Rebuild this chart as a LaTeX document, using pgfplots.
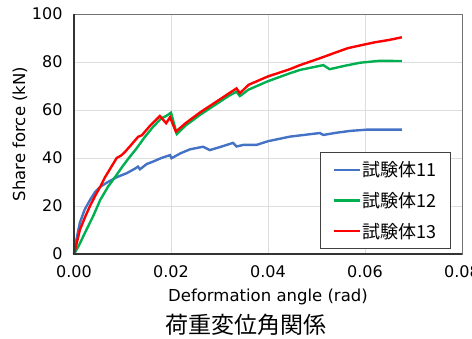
\documentclass[border=0pt]{standalone}
\usepackage{pgfplots}
\pgfplotsset{compat=1.18}
\usepackage{fontspec}
\setmainfont{DejaVu Sans}
\newfontfamily\jp{Noto Sans CJK JP}
\definecolor{cblue}{HTML}{4472C4}
\definecolor{cgreen}{HTML}{00B050}
\definecolor{cred}{HTML}{FF0000}
\begin{document}
\begin{tikzpicture}
\begin{axis}[
  name=ax,
  scale only axis,
  width=388pt, height=240pt,
  xmin=0, xmax=0.08, ymin=0, ymax=100,
  xtick={0,0.02,0.04,0.06,0.08},
  ytick={0,20,40,60,80,100},
  scaled x ticks=false,
  xticklabel style={/pgf/number format/fixed, /pgf/number format/fixed zerofill, /pgf/number format/precision=2, yshift=-8pt},
  yticklabel style={xshift=-8pt},
  /pgf/number format/assume math mode=true,
  tick label style={font=\fontsize{16}{19}\selectfont},
  major tick length=0pt,
  grid=major,
  major grid style={draw=black!13, line width=1pt},
  axis line style={draw=black!55, line width=1pt},
  xlabel={Deformation angle (rad)},
  ylabel={Share force (kN)},
  label style={font=\fontsize{16.5}{20}\selectfont},
  xlabel style={at={(axis description cs:0.5,-0.179)}, anchor=center},
  ylabel style={at={(axis description cs:-0.139,0.5)}, anchor=center},
  legend cell align=left,
  legend image code/.code={\draw[#1, line width=2.4pt] (0pt,0pt) -- (26pt,0pt);},
  legend style={at={(0.972,0.021)}, anchor=south east, draw=black!75, line width=0.8pt, fill=white,
    font=\jp\fontsize{18}{21}\selectfont, row sep=10pt, inner xsep=12pt, inner ysep=7pt,
    /tikz/every even column/.append style={column sep=3pt}},
  clip=false,
]
\addplot[cblue, line width=2.4pt] coordinates {
(0,0) (0.0005,6) (0.0012,13) (0.0022,18.5) (0.0033,22.5) (0.0044,26) (0.0054,28) (0.0070,30)
(0.0088,32) (0.0109,33.7) (0.0125,35.5) (0.0132,36.4) (0.0136,35.3) (0.0150,37.5) (0.0163,38.5)
(0.0180,40) (0.0198,41.2) (0.0201,39.9) (0.0220,42) (0.0239,43.6) (0.0266,44.7) (0.0280,43.3)
(0.0300,44.5) (0.0328,46.3) (0.0335,44.8) (0.0350,45.5) (0.0377,45.5) (0.0400,47) (0.0445,48.9)
(0.0490,50) (0.0507,50.4) (0.0514,49.6) (0.0540,50.5) (0.0570,51.3) (0.0603,51.8) (0.0676,51.8)
};
\addlegendentry{試験体11}
\addplot[cgreen, line width=2.4pt] coordinates {
(0,0) (0.0010,3.5) (0.0023,9) (0.0040,16) (0.0054,22.5) (0.0070,28) (0.0088,33) (0.0100,36.5)
(0.0115,40.5) (0.0129,44) (0.0145,48.5) (0.0163,53) (0.0180,56.5) (0.0190,57.5) (0.0200,58.9)
(0.0212,50) (0.0230,53.5) (0.0260,58) (0.0290,62) (0.0320,66) (0.0335,67.6) (0.0342,65.8)
(0.0360,68.5) (0.0400,72) (0.0445,75.3) (0.0466,76.7) (0.0514,78.7) (0.0527,77) (0.0560,78.5)
(0.0590,79.7) (0.0630,80.5) (0.0676,80.4)
};
\addlegendentry{試験体12}
\addplot[cred, line width=2.4pt] coordinates {
(0,0) (0.0005,4) (0.0012,10) (0.0023,15.5) (0.0033,20) (0.0043,24) (0.0054,28) (0.0064,32)
(0.0076,36) (0.0088,40) (0.0097,41) (0.0105,42.5) (0.0118,45.5) (0.0132,48.8) (0.0140,49.5)
(0.0157,53.5) (0.0167,55.5) (0.0177,57.5) (0.0190,54.5) (0.0198,57) (0.0210,51) (0.0230,54.5)
(0.0260,59) (0.0290,63) (0.0320,67) (0.0335,69) (0.0342,67) (0.0360,70.5) (0.0400,74)
(0.0445,77) (0.0466,78.7) (0.0513,82) (0.0540,84) (0.0565,85.8) (0.0590,86.9) (0.0620,88.2)
(0.0650,89.2) (0.0676,90.3)
};
\addlegendentry{試験体13}
\draw[black!80, line width=1.3pt] (rel axis cs:0,1) -- (rel axis cs:0,0) -- (rel axis cs:1,0);
\end{axis}
\node[font=\jp\fontsize{23}{26}\selectfont, anchor=center] at ([shift={(172pt,-71pt)}]ax.south west) {荷重変位角関係};
\pgfresetboundingbox
\path ([shift={(-74pt,-84pt)}]ax.south west) rectangle ([shift={(10pt,14pt)}]ax.north east);
\end{tikzpicture}
\end{document}
